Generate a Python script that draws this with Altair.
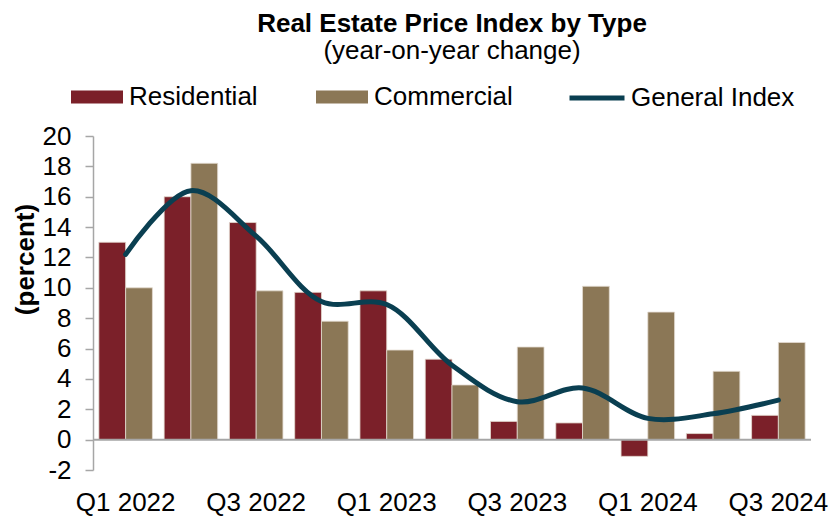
import altair as alt
import pandas as pd

quarters = ["Q1 2022", "Q2 2022", "Q3 2022", "Q4 2022",
            "Q1 2023", "Q2 2023", "Q3 2023", "Q4 2023",
            "Q1 2024", "Q2 2024", "Q3 2024"]
residential = [13.0, 16.0, 14.3, 9.7, 9.8, 5.3, 1.2, 1.1, -1.1, 0.4, 1.6]
commercial = [10.0, 18.2, 9.8, 7.8, 5.9, 3.6, 6.1, 10.1, 8.4, 4.5, 6.4]
general_index = [12.2, 16.4, 13.4, 9.1, 8.9, 4.9, 2.5, 3.4, 1.4, 1.7, 2.6]
shown_labels = ["Q1 2022", "Q3 2022", "Q1 2023", "Q3 2023", "Q1 2024", "Q3 2024"]
y_ticks = list(range(-2, 21, 2))

types = ["Residential", "Commercial"]
bar_colors = ["#7B2029", "#8B7756"]
line_color = "#0A3F51"
axis_gray = "#A6A6A6"
FONT = "Liberation Sans, Arial"

bars_df = pd.DataFrame(
    [{"quarter": q, "type": "Residential", "value": v} for q, v in zip(quarters, residential)]
    + [{"quarter": q, "type": "Commercial", "value": v} for q, v in zip(quarters, commercial)]
)
line_df = pd.DataFrame({"quarter": quarters, "value": general_index,
                        "series": ["General Index"] * len(quarters)})
zero_df = pd.DataFrame({"value": [0]})

x_axis = alt.Axis(values=shown_labels, labelAngle=0, ticks=False, tickSize=0,
                  domain=False, labelPadding=19, labelFontSize=26,
                  labelFont=FONT, labelColor="black", labelOverlap=False)
x_scale = alt.Scale(paddingInner=0.18, paddingOuter=0.09)
y_axis = alt.Axis(values=y_ticks, grid=False, tickSize=8, tickColor=axis_gray,
                  tickWidth=1.5, domainColor=axis_gray, domainWidth=1.5,
                  labelFontSize=26, labelFont=FONT, labelColor="black",
                  labelPadding=14, labelOverlap=False,
                  labelExpr="datum.value + ''",
                  titleFontSize=26, titleFont=FONT,
                  titleFontWeight="bold", titleColor="black", titlePadding=4,
                  titleY=123)
y_scale = alt.Scale(domain=[-2, 20], nice=False, zero=False)


def x_enc():
    return alt.X("quarter:N", sort=quarters, title=None, scale=x_scale, axis=x_axis)


def y_enc():
    return alt.Y("value:Q", title="(percent)", scale=y_scale, axis=y_axis)


bars = alt.Chart(bars_df).mark_bar(stroke="#E3DAD0", strokeWidth=0.8).encode(
    x=x_enc(),
    xOffset=alt.XOffset("type:N", sort=types, scale=alt.Scale(paddingInner=0, paddingOuter=0)),
    y=y_enc(),
    fill=alt.Fill(
        "type:N",
        scale=alt.Scale(domain=types, range=bar_colors),
        legend=alt.Legend(
            title=None, orient="none", direction="horizontal",
            legendX=-22, legendY=-65,
            symbolType="M-1,-0.25H1V0.25H-1Z", symbolSize=2704,
            symbolStrokeWidth=0, symbolOpacity=1,
            labelFontSize=26, labelFont=FONT, labelColor="black",
            labelOffset=6, columnPadding=58, padding=0, labelLimit=400,
        ),
    ),
)

zero_rule = alt.Chart(zero_df).mark_rule(
    color=axis_gray, strokeWidth=2
).encode(y=y_enc())

line = alt.Chart(line_df).mark_line(
    interpolate="catmull-rom", strokeWidth=5, strokeCap="round"
).encode(
    x=x_enc(),
    y=y_enc(),
    stroke=alt.Stroke(
        "series:N",
        scale=alt.Scale(domain=["General Index"], range=[line_color]),
        legend=alt.Legend(
            title=None, orient="none", direction="horizontal",
            legendX=474, legendY=-68,
            symbolType="stroke", symbolSize=3025, symbolStrokeWidth=5,
            labelFontSize=26, labelFont=FONT, labelColor="black",
            labelOffset=4, padding=0, labelLimit=400,
        ),
    ),
)

chart = alt.layer(bars, zero_rule, line).properties(
    width=718,
    height=334,
    autosize=alt.AutoSizeParams(type="none"),
    padding={"left": 85, "top": 128, "right": 21, "bottom": 47},
    background="white",
    title=alt.TitleParams(
        text="Real Estate Price Index by Type",
        subtitle="(year-on-year change)",
        font=FONT, subtitleFont=FONT,
        fontSize=26, subtitleFontSize=26,
        fontWeight="bold", subtitleFontWeight="normal",
        color="black", subtitleColor="black",
        anchor="middle", offset=4, subtitlePadding=1,
    ),
).configure_view(stroke=None)

chart.save("out.html", embed_options={"renderer": "svg", "actions": False})
